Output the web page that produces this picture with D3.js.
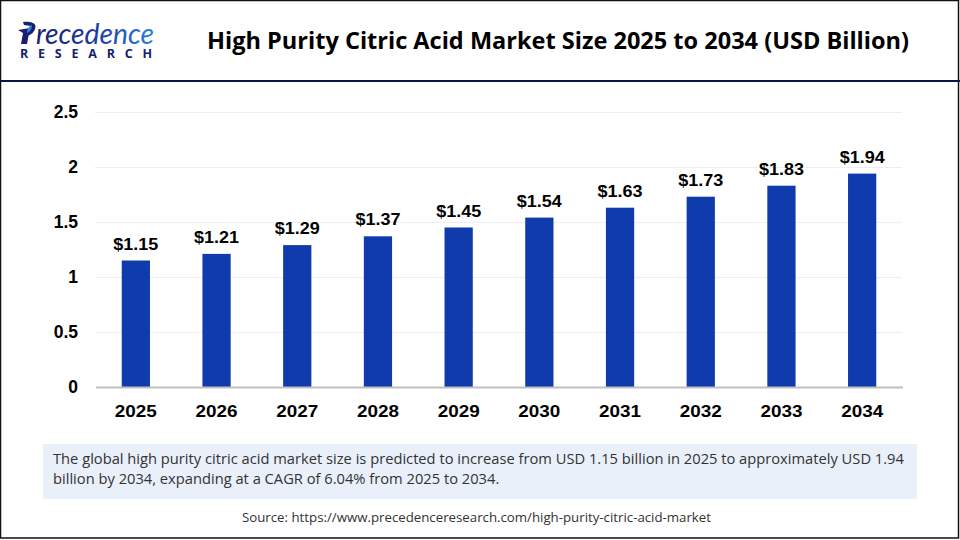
<!DOCTYPE html>
<html>
<head>
<meta charset="utf-8">
<script src="https://cdnjs.cloudflare.com/ajax/libs/d3/7.8.5/d3.min.js"></script>
<style>
  html, body { margin: 0; padding: 0; background: #fff; }
  svg { display: block; }
</style>
</head>
<body>
<script>
// chart data
var years = ['2025', '2026', '2027', '2028', '2029', '2030', '2031', '2032', '2033', '2034'];
var marketSize = [1.15, 1.21, 1.29, 1.37, 1.45, 1.54, 1.63, 1.73, 1.83, 1.94];
var yTicks = [0, 0.5, 1, 1.5, 2, 2.5];
var titleText = 'High Purity Citric Acid Market Size 2025 to 2034 (USD Billion)';
var noteLines = [
    'The global high purity citric acid market size is predicted to increase from USD 1.15 billion in 2025 to approximately USD 1.94',
    'billion by 2034, expanding at a CAGR of 6.04% from 2025 to 2034.'
];
var sourceText = 'Source: https://www.precedenceresearch.com/high-purity-citric-acid-market';

var svg = d3.select('body').append('svg')
    .attr('width', 960)
    .attr('height', 540);

var defs = svg.append('defs');
var logoGrad = defs.append('linearGradient').attr('id', 'logoGrad');
logoGrad.append('stop').attr('offset', '0%').attr('stop-color', '#16206e');
logoGrad.append('stop').attr('offset', '55%').attr('stop-color', '#1d3fa8');
logoGrad.append('stop').attr('offset', '100%').attr('stop-color', '#2a7fe0');

// outer frame and header rule
svg.append('rect')
    .attr('x', 0.5).attr('y', 0.5)
    .attr('width', 958).attr('height', 537.5)
    .attr('fill', 'none')
    .attr('stroke', '#111')
    .attr('stroke-width', 1.5);

svg.append('rect')
    .attr('x', 0).attr('y', 80)
    .attr('width', 960).attr('height', 2)
    .attr('fill', '#0c1445');

// logo, approximated with text and a small mark
var logo = svg.append('g');
logo.append('path')
    .attr('d', 'M18 30 L30 28 L27 44 L21 44 L23 33 Z')
    .attr('fill', '#16206e');
logo.append('path')
    .attr('d', 'M23 22 C33 21 37 24 35 29 C33 34 30 35 26 36 L27 33 C30 31 31 28 31 26 L24 25 Z')
    .attr('fill', '#16206e');
logo.append('path')
    .attr('d', 'M27 33 C27 29 29 26 32 25 C32 29 30 32 27 33 Z')
    .attr('fill', '#2a7fe0');
logo.append('text')
    .attr('x', 36).attr('y', 44)
    .attr('font-family', 'Lato, "Open Sans", sans-serif')
    .attr('font-style', 'italic')
    .attr('font-size', 28)
    .attr('textLength', 118)
    .attr('lengthAdjust', 'spacingAndGlyphs')
    .attr('fill', 'url(#logoGrad)')
    .text('recedence');
logo.append('text')
    .attr('x', 20).attr('y', 58)
    .attr('font-family', '"Open Sans", sans-serif')
    .attr('font-weight', 700)
    .attr('font-size', 12.5)
    .attr('textLength', 132)
    .attr('fill', '#16206e')
    .text('RESEARCH');

svg.append('text')
    .attr('x', 558).attr('y', 49)
    .attr('text-anchor', 'middle')
    .attr('font-family', '"Open Sans", sans-serif')
    .attr('font-weight', 700)
    .attr('font-size', 24)
    .attr('textLength', 702)
    .attr('lengthAdjust', 'spacingAndGlyphs')
    .attr('fill', '#000')
    .text(titleText);

// scales
var x = d3.scaleBand().domain(years).range([95.5, 902.5]).paddingInner(0.65).paddingOuter(0.325);
var y = d3.scaleLinear().domain([0, 2.5]).range([387, 112]);

// gridlines
svg.append('g').selectAll('line')
    .data(yTicks.slice(1))
    .enter()
    .append('line')
    .attr('x1', 95).attr('x2', 902)
    .attr('y1', function (d) { return y(d) + 0.5 })
    .attr('y2', function (d) { return y(d) + 0.5 })
    .attr('stroke', '#eeeeee')
    .attr('stroke-width', 1);

// y axis labels
var yAxis = svg.append('g')
    .attr('transform', 'translate(95,0)')
    .call(d3.axisLeft(y).tickValues(yTicks).tickFormat(function (d) { return String(d) }).tickSize(0).tickPadding(17));
yAxis.select('.domain').remove();
yAxis.selectAll('text')
    .attr('font-family', '"Liberation Sans", sans-serif')
    .attr('font-weight', 700)
    .attr('font-size', 17.5)
    .attr('fill', '#000');

// bars
svg.append('g').selectAll('rect')
    .data(marketSize)
    .enter()
    .append('rect')
    .attr('x', function (d, i) { return x(years[i]) })
    .attr('y', function (d) { return y(d) })
    .attr('width', x.bandwidth())
    .attr('height', function (d) { return y(0) - y(d) })
    .attr('fill', '#0f3bad');

// value labels
svg.append('g').selectAll('text')
    .data(marketSize)
    .enter()
    .append('text')
    .attr('x', function (d, i) { return x(years[i]) + x.bandwidth() / 2 })
    .attr('y', function (d) { return y(d) - 11 })
    .attr('text-anchor', 'middle')
    .attr('font-family', '"Liberation Sans", sans-serif')
    .attr('font-weight', 700)
    .attr('font-size', 17)
    .attr('textLength', 45)
    .attr('lengthAdjust', 'spacingAndGlyphs')
    .attr('fill', '#000')
    .text(function (d) { return '$' + d.toFixed(2) });

// x axis
var xAxis = svg.append('g')
    .attr('transform', 'translate(0,387)')
    .call(d3.axisBottom(x).tickSize(0).tickPadding(18));
xAxis.select('.domain')
    .attr('stroke', '#bfbfbf')
    .attr('stroke-width', 2);
xAxis.selectAll('text')
    .attr('font-family', '"Liberation Sans", sans-serif')
    .attr('font-weight', 700)
    .attr('font-size', 17)
    .attr('textLength', 42)
    .attr('lengthAdjust', 'spacingAndGlyphs')
    .attr('fill', '#000');

// note box
svg.append('rect')
    .attr('x', 43).attr('y', 444)
    .attr('width', 874).attr('height', 55)
    .attr('fill', '#e9f0fa');

svg.append('g').selectAll('text')
    .data(noteLines)
    .enter()
    .append('text')
    .attr('x', 53)
    .attr('y', function (d, i) { return 464 + i * 20 })
    .attr('font-family', '"Open Sans", sans-serif')
    .attr('font-size', 14.7)
    .attr('fill', '#333')
    .text(function (d) { return d });

svg.append('text')
    .attr('x', 476.5).attr('y', 522)
    .attr('text-anchor', 'middle')
    .attr('font-family', '"Open Sans", sans-serif')
    .attr('font-size', 13.25)
    .attr('fill', '#333')
    .text(sourceText);
</script>
</body>
</html>
